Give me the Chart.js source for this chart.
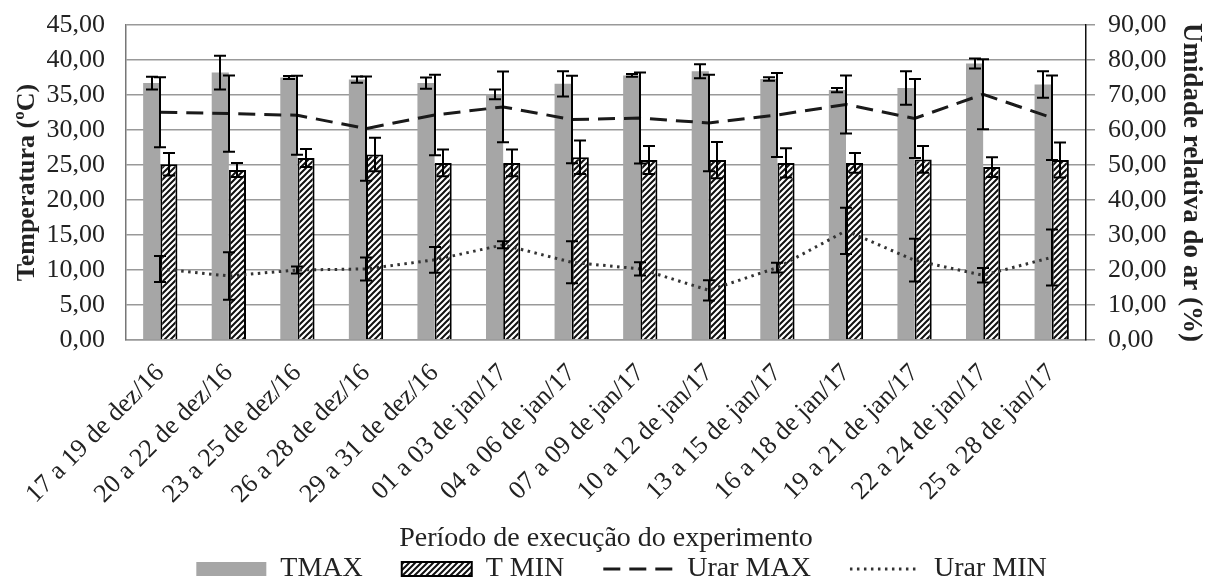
<!DOCTYPE html>
<html>
<head>
<meta charset="utf-8">
<script src="https://cdn.jsdelivr.net/npm/chart.js@4.4.1/dist/chart.umd.min.js"></script>
<style>
  html, body { margin: 0; padding: 0; background: #fff; }
  #wrap { width: 1207px; height: 578px; }
</style>
</head>
<body>
<div id="wrap"><canvas id="chart" width="1207" height="578"></canvas></div>
<script>
const periods = [
    '17 a 19 de dez/16', '20 a 22 de dez/16', '23 a 25 de dez/16', '26 a 28 de dez/16',
    '29 a 31 de dez/16', '01 a 03 de jan/17', '04 a 06 de jan/17', '07 a 09 de jan/17',
    '10 a 12 de jan/17', '13 a 15 de jan/17', '16 a 18 de jan/17', '19 a 21 de jan/17',
    '22 a 24 de jan/17', '25 a 28 de jan/17'
];
const tmax = [36.7, 38.2, 37.5, 37.2, 36.7, 35.1, 36.6, 37.8, 38.4, 37.3, 35.7, 36.0, 39.5, 36.5];
const tmaxErr = [0.9, 2.4, 0.2, 0.45, 0.8, 0.7, 1.8, 0.2, 1.0, 0.25, 0.3, 2.4, 0.7, 1.9];
const tmin = [25.1, 24.3, 26.0, 26.5, 25.3, 25.3, 26.1, 25.7, 25.7, 25.3, 25.3, 25.8, 24.7, 25.7];
const tminErr = [1.6, 1.0, 1.3, 2.4, 1.9, 1.9, 2.4, 2.0, 2.6, 2.1, 1.4, 1.9, 1.4, 2.5];
const urarMax = [65.1, 64.7, 64.2, 60.4, 64.3, 66.6, 63.0, 63.4, 62.0, 64.3, 67.3, 63.3, 70.2, 63.5];
const urarMaxErr = [10.0, 10.9, 11.3, 14.9, 11.5, 10.1, 12.5, 13.0, 13.8, 12.0, 8.3, 11.3, 10.0, 12.1];
const urarMin = [20.3, 18.3, 20.0, 20.3, 22.9, 27.2, 22.2, 20.3, 14.2, 20.7, 31.2, 22.8, 18.5, 23.6];
const urarMinErr = [3.7, 6.8, 1.0, 3.3, 3.7, 1.0, 6.0, 1.9, 2.9, 1.4, 6.6, 6.1, 2.1, 8.0];

const serif = 'Liberation Serif';
const legendGap = '\u2003\u2005';

// hachura diagonal para T MIN
function makeHatch() {
    const c = document.createElement('canvas');
    c.width = 6;
    c.height = 6;
    const g = c.getContext('2d');
    g.fillStyle = '#fff';
    g.fillRect(0, 0, 6, 6);
    g.strokeStyle = '#111';
    g.lineWidth = 2;
    g.beginPath();
    g.moveTo(-1, 7); g.lineTo(7, -1);
    g.moveTo(-4, 4); g.lineTo(4, -4);
    g.moveTo(2, 10); g.lineTo(10, 2);
    g.stroke();
    return g.createPattern(c, 'repeat');
}

// barras de erro desenhadas pelas escalas do grafico
const errorBars = {
    id: 'errorBars',
    afterDatasetsDraw(chart) {
        const ctx = chart.ctx;
        chart.data.datasets.forEach((ds, i) => {
            if (!ds.errors) return;
            const meta = chart.getDatasetMeta(i);
            const scale = chart.scales[meta.yAxisID];
            ctx.save();
            ctx.strokeStyle = '#000';
            ctx.lineWidth = 2;
            meta.data.forEach((el, j) => {
                const v = ds.data[j];
                const e = ds.errors[j];
                const x = Math.round(el.x);
                const yTop = scale.getPixelForValue(v + e);
                const yBot = scale.getPixelForValue(v - e);
                ctx.beginPath();
                ctx.moveTo(x, yTop); ctx.lineTo(x, yBot);
                ctx.moveTo(x - 6, yTop); ctx.lineTo(x + 6, yTop);
                ctx.moveTo(x - 6, yBot); ctx.lineTo(x + 6, yBot);
                ctx.stroke();
            });
            ctx.restore();
        });
    }
};

// legenda um pouco deslocada para a direita, como no original
const legendShift = {
    id: 'legendShift',
    afterLayout(chart) {
        chart.legend.left += 18;
        chart.legend.right += 18;
    }
};

function fitY(width) {
    return scale => {
        scale.width = width;
        scale.paddingTop = 0;
    };
}

const ctx = document.getElementById('chart').getContext('2d');
new Chart(ctx, {
    type: 'bar',
    data: {
        labels: periods,
        datasets: [
            {
                label: 'TMAX',
                data: tmax,
                errors: tmaxErr,
                backgroundColor: '#a6a6a6',
                borderWidth: 0,
                pointStyle: 'rect',
                yAxisID: 'y',
                order: 2
            },
            {
                label: 'T MIN',
                data: tmin,
                errors: tminErr,
                backgroundColor: makeHatch(),
                borderColor: '#000',
                borderWidth: 2,
                pointStyle: 'rect',
                yAxisID: 'y',
                order: 2
            },
            {
                type: 'line',
                label: 'Urar MAX',
                data: urarMax,
                errors: urarMaxErr,
                borderColor: '#1a1a1a',
                backgroundColor: '#1a1a1a',
                borderWidth: 3,
                borderDash: [17, 9],
                pointRadius: 0,
                pointStyle: 'line',
                tension: 0,
                yAxisID: 'y1',
                order: 1
            },
            {
                type: 'line',
                label: 'Urar MIN',
                data: urarMin,
                errors: urarMinErr,
                borderColor: '#333',
                backgroundColor: '#333',
                borderWidth: 3,
                borderDash: [2.5, 4.5],
                pointRadius: 0,
                pointStyle: 'line',
                tension: 0,
                yAxisID: 'y1',
                order: 1
            }
        ]
    },
    options: {
        responsive: false,
        animation: false,
        layout: { padding: { top: 25, right: 0, bottom: -15, left: 0 } },
        datasets: {
            bar: { categoryPercentage: 0.5, barPercentage: 1.0 }
        },
        plugins: {
            tooltip: { enabled: false },
            legend: {
                position: 'bottom',
                labels: {
                    usePointStyle: true,
                    pointStyleWidth: 70,
                    boxHeight: 14,
                    padding: 4,
                    color: '#222',
                    font: { family: serif, size: 28 },
                    sort: (a, b) => a.datasetIndex - b.datasetIndex,
                    generateLabels: chart => {
                        const items = Chart.defaults.plugins.legend.labels.generateLabels(chart);
                        items.forEach(item => {
                            const ds = chart.data.datasets[item.datasetIndex];
                            if (ds.type === 'line') {
                                item.lineDash = ds.borderDash;
                                item.lineWidth = ds.borderWidth;
                                item.strokeStyle = ds.borderColor;
                            }
                            if (item.datasetIndex < 3) item.text = item.text + legendGap;
                        });
                        return items;
                    }
                }
            }
        },
        scales: {
            x: {
                grid: { display: false },
                border: { display: true, color: '#999', width: 1.5 },
                afterFit: scale => { scale.height = 211; },
                ticks: {
                    color: '#222',
                    font: { family: serif, size: 26 },
                    minRotation: 45,
                    maxRotation: 45,
                    autoSkip: false,
                    padding: 10
                },
                title: {
                    display: true,
                    text: 'Período de execução do experimento',
                    color: '#222',
                    font: { family: serif, size: 28, lineHeight: 1 },
                    padding: { top: 0, bottom: -2 }
                }
            },
            y: {
                position: 'left',
                min: 0,
                max: 45,
                afterFit: fitY(126),
                ticks: {
                    stepSize: 5,
                    autoSkip: false,
                    color: '#222',
                    padding: 21,
                    font: { family: serif, size: 26 },
                    callback: v => v.toFixed(2).replace('.', ',')
                },
                grid: { color: '#999', lineWidth: 1.5, drawTicks: false },
                border: { display: true, color: '#777', width: 1.5 },
                title: {
                    display: true,
                    text: 'Temperatura (ºC)',
                    color: '#222',
                    font: { family: serif, size: 26, weight: 'bold' },
                    padding: { top: 12, bottom: 0 }
                }
            },
            y1: {
                position: 'right',
                min: 0,
                max: 90,
                afterFit: fitY(121),
                ticks: {
                    stepSize: 10,
                    autoSkip: false,
                    color: '#222',
                    padding: 13,
                    font: { family: serif, size: 26 },
                    callback: v => v.toFixed(2).replace('.', ',')
                },
                grid: { drawOnChartArea: false, color: '#999', lineWidth: 1.5, tickLength: 9 },
                border: { display: true, color: '#111', width: 1.5 },
                title: {
                    display: true,
                    text: 'Umidade relativa do ar (%)',
                    color: '#222',
                    font: { family: serif, size: 27, weight: 'bold' },
                    padding: { top: 0, bottom: 0 }
                }
            }
        }
    },
    plugins: [errorBars, legendShift]
});
</script>
</body>
</html>
